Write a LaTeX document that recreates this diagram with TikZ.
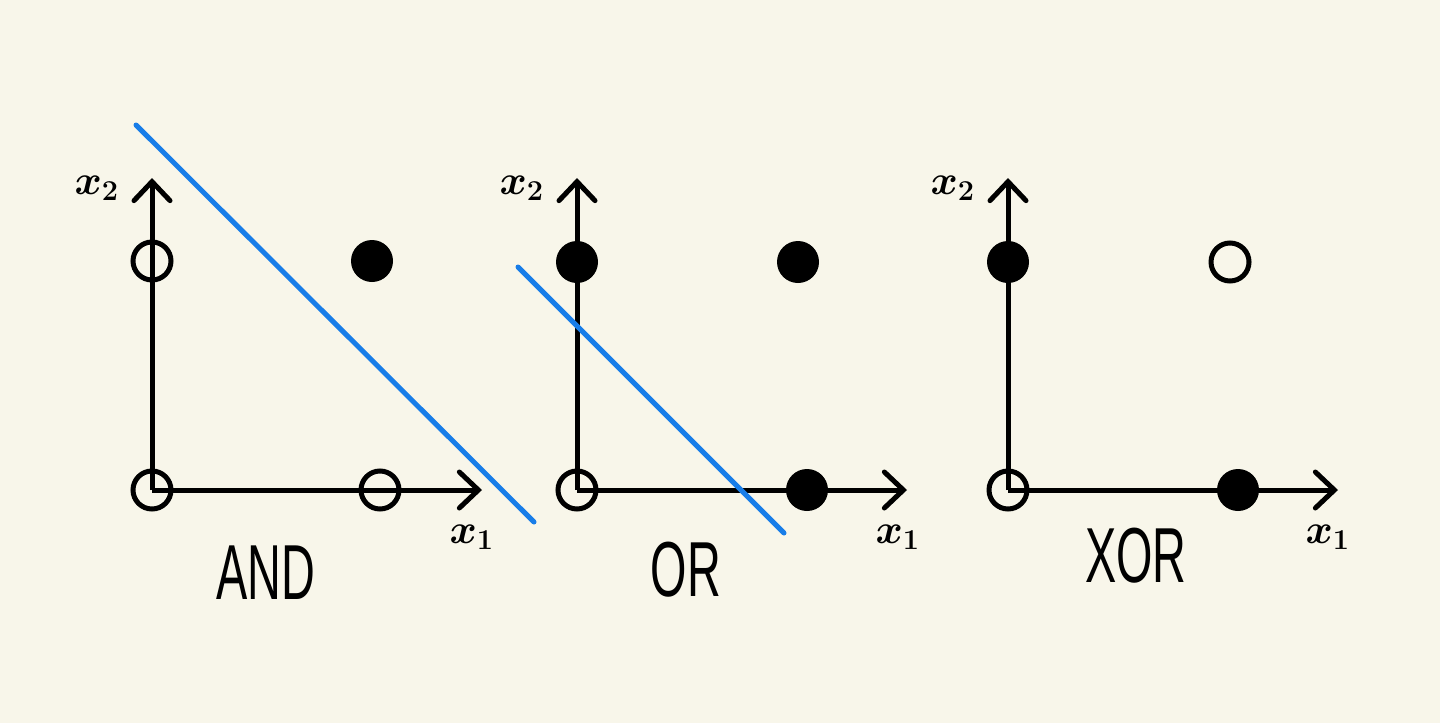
\documentclass[tikz,border=0pt]{standalone}
\usepackage{amsmath}
\usepackage{fontspec}
\setsansfont{Liberation Sans}
\usetikzlibrary{arrows.meta}

\definecolor{paper}{RGB}{248,246,234}
\definecolor{sepblue}{RGB}{24,125,232}

\newcommand{\bigvar}[1]{\scalebox{2.4}{$\boldsymbol{#1}$}}

\tikzset{
  axis/.style={line width=5pt,-{Straight Barb[length=19pt,width=36pt,line width=5pt,line cap=round]}},
  opendot/.style={circle,draw,line width=5pt,minimum size=38pt,inner sep=0pt},
  fulldot/.style={circle,fill,minimum size=42pt,inner sep=0pt},
  sepline/.style={sepblue,line width=5pt,line cap=round},
  varlabel/.style={font=\LARGE},
  gatelabel/.style={font=\sffamily\fontsize{78}{78}\selectfont,xscale=0.6}
}

\begin{document}
\begin{tikzpicture}[x=1pt,y=-1pt]
  \fill[paper] (0,0) rectangle (1440,723);
  \useasboundingbox (0,0) rectangle (1440,723);

  % AND
  \coordinate (o1) at (152,490);
  \coordinate (y1) at (152,178);
  \coordinate (x1) at (482,490);
  \draw[axis] (o1) -- (y1);
  \draw[axis] (o1) -- (x1);
  \node[opendot] (a00) at (152,490) {};
  \node[opendot] (a10) at (380,490) {};
  \node[opendot] (a01) at (152,261) {};
  \node[fulldot] (a11) at (372,261) {};
  \coordinate (s1a) at (136,125);
  \coordinate (s1b) at (534,522);
  \draw[sepline] (s1a) -- (s1b);
  \node[varlabel] (l1y) at (97,188) {\bigvar{x_2}};
  \node[varlabel] (l1x) at (472,537) {\bigvar{x_1}};
  \node[gatelabel] (g1) at (266,573) {AND};

  % OR
  \coordinate (o2) at (577,490);
  \coordinate (y2) at (577,178);
  \coordinate (x2) at (907,490);
  \draw[axis] (o2) -- (y2);
  \draw[axis] (o2) -- (x2);
  \node[opendot] (b00) at (577,490) {};
  \node[fulldot] (b10) at (807,490) {};
  \node[fulldot] (b01) at (577,262) {};
  \node[fulldot] (b11) at (798,262) {};
  \coordinate (s2a) at (518,267);
  \coordinate (s2b) at (784,533);
  \draw[sepline] (s2a) -- (s2b);
  \node[varlabel] (l2y) at (522,188) {\bigvar{x_2}};
  \node[varlabel] (l2x) at (898,537) {\bigvar{x_1}};
  \node[gatelabel] (g2) at (686,570) {OR};

  % XOR
  \coordinate (o3) at (1008,490);
  \coordinate (y3) at (1008,178);
  \coordinate (x3) at (1338,490);
  \draw[axis] (o3) -- (y3);
  \draw[axis] (o3) -- (x3);
  \node[opendot] (c00) at (1008,490) {};
  \node[fulldot] (c10) at (1238,490) {};
  \node[fulldot] (c01) at (1008,262) {};
  \node[opendot] (c11) at (1230,262) {};
  \node[varlabel] (l3y) at (953,188) {\bigvar{x_2}};
  \node[varlabel] (l3x) at (1328,537) {\bigvar{x_1}};
  \node[gatelabel] (g3) at (1136,556) {XOR};
\end{tikzpicture}
\end{document}
